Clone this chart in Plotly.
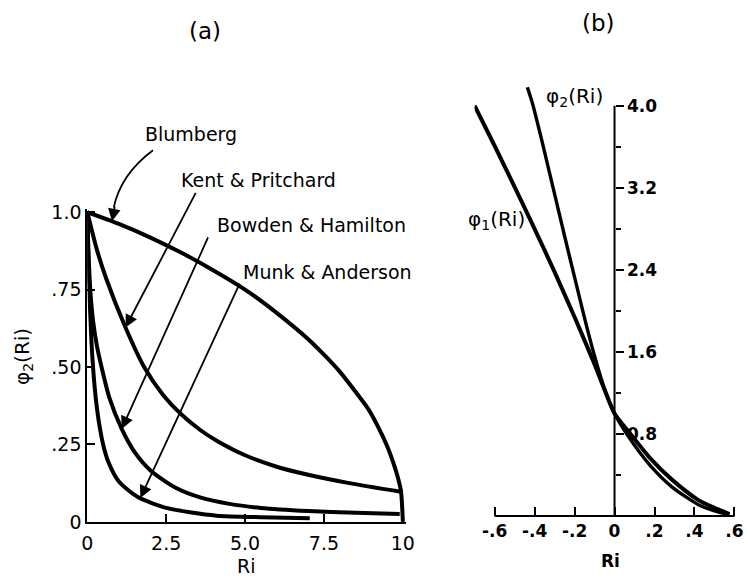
import numpy as np
import plotly.graph_objects as go

W, H = 747, 588

# ---------------- data: panel (a) ----------------
ri_blumberg = [0, 1.0, 2.0, 3.0, 4.0, 5.0, 6.0, 7.0, 7.5, 8.0, 8.5, 8.9, 9.2, 9.5, 9.7, 9.85, 9.94, 10.0]
phi_blumberg = [1.0, 0.962, 0.918, 0.868, 0.812, 0.75, 0.675, 0.59, 0.54, 0.485, 0.42, 0.365, 0.31, 0.245, 0.19, 0.14, 0.10, 0.0]

ri_kent = [0, 0.3, 0.6, 1.2, 1.8, 2.4, 3.0, 3.6, 4.1, 5.0, 6.0, 7.0, 8.3, 9.94]
phi_kent = [1.0, 0.88, 0.785, 0.63, 0.50, 0.41, 0.345, 0.295, 0.262, 0.215, 0.178, 0.152, 0.125, 0.097]

ri_bowden = [0, 0.04, 0.1, 0.18, 0.3, 0.45, 0.7, 1.09, 1.5, 2.0, 2.8, 3.6, 4.5, 5.5, 7.0, 8.5, 9.9]
phi_bowden = [1.0, 0.86, 0.74, 0.65, 0.57, 0.50, 0.40, 0.30, 0.225, 0.166, 0.11, 0.078, 0.058, 0.045, 0.035, 0.029, 0.025]

ri_munk = [0, 0.02, 0.06, 0.16, 0.3, 0.5, 0.68, 1.0, 1.6, 2.5, 3.3, 4.1, 5.5, 7.05]
phi_munk = [1.0, 0.9, 0.76, 0.53, 0.37, 0.25, 0.19, 0.13, 0.08, 0.045, 0.03, 0.02, 0.015, 0.012]

a_xtick_vals = [0, 2.5, 5.0, 7.5, 10]
a_xtick_text = ["0", "2.5", "5.0", "7.5", "10"]
a_ytick_vals = [0, 0.25, 0.5, 0.75, 1.0]
a_ytick_text = ["0", ".25", ".50", ".75", "1.0"]

# ---------------- data: panel (b) ----------------
ri_phi1 = [-0.70, -0.60, -0.50, -0.40, -0.30, -0.20, -0.10, -0.05, 0.0, 0.08, 0.18, 0.29, 0.42, 0.50, 0.575]
phi1 = [4.00, 3.61, 3.21, 2.80, 2.38, 1.94, 1.48, 1.23, 1.0, 0.80, 0.56, 0.35, 0.155, 0.08, 0.02]

ri_phi2 = [-0.436, -0.41, -0.38, -0.35, -0.30, -0.25, -0.20, -0.15, -0.10, -0.05, 0.0, 0.08, 0.18, 0.29, 0.42, 0.50, 0.575]
phi2 = [4.18, 4.02, 3.79, 3.55, 3.14, 2.73, 2.33, 1.93, 1.56, 1.24, 1.0, 0.745, 0.49, 0.28, 0.11, 0.05, 0.01]

b_xtick_vals = [-0.6, -0.4, -0.2, 0, 0.2, 0.4, 0.6]
b_xtick_text = ["-.6", "-.4", "-.2", "0", ".2", ".4", ".6"]
b_ytick_vals = [0.8, 1.6, 2.4, 3.2, 4.0]
b_ytick_text = ["0.8", "1.6", "2.4", "3.2", "4.0"]
b_yminor_vals = [0.4, 1.2, 2.0, 2.8, 3.6]

# ---------------- layout geometry ----------------
def px(x, y):
    return x / W, 1 - y / H

XA_RANGE = [0, 10.1]
YA_RANGE = [0, 1.01]
XB_RANGE = [-0.70, 0.615]
YB_RANGE = [0, 4.3]

xa_dom = [83 / W, (83 + 32.2 * 10.1) / W]
ya_dom = [(H - 531) / H, (H - (531 - 320 * 1.01)) / H]
xb_dom = [(621 - 204 * 0.70) / W, (621 + 204 * 0.615) / W]
yb_dom = [(H - 525) / H, (H - (525 - 106 * 4.3)) / H]
yb_pos = xb_dom[0] + (0 - XB_RANGE[0]) / (XB_RANGE[1] - XB_RANGE[0]) * (xb_dom[1] - xb_dom[0])

FONT = "DejaVu Sans"
fa = dict(family=FONT, size=19, color="black")
fb = dict(family=FONT, size=17, color="black", weight="bold")

fig = go.Figure()


def curve(x, y, xa, ya, w=4.0):
    fig.add_trace(go.Scatter(
        x=x, y=y, xaxis=xa, yaxis=ya, mode="lines",
        line=dict(color="black", width=w, shape="spline", smoothing=0.7),
        hoverinfo="skip", showlegend=False))


curve(ri_blumberg, phi_blumberg, "x", "y")
curve(ri_kent, phi_kent, "x", "y")
curve(ri_bowden, phi_bowden, "x", "y")
curve(ri_munk, phi_munk, "x", "y")
curve(ri_phi1, phi1, "x2", "y2", 4.0)
curve(ri_phi2, phi2, "x2", "y2", 3.4)

fig.update_layout(
    width=W, height=H,
    margin=dict(l=0, r=0, t=0, b=0),
    paper_bgcolor="white", plot_bgcolor="white",
    showlegend=False,
    xaxis=dict(domain=xa_dom, range=XA_RANGE, anchor="y", showline=True, linecolor="black",
               linewidth=2, ticks="inside", ticklen=8, tickwidth=2, tickcolor="black",
               tickvals=a_xtick_vals, ticktext=a_xtick_text, tickfont=fa,
               ticklabelstandoff=3, showgrid=False, zeroline=False),
    yaxis=dict(domain=ya_dom, range=YA_RANGE, anchor="x", showline=True, linecolor="black",
               linewidth=2, ticks="inside", ticklen=8, tickwidth=2, tickcolor="black",
               tickvals=a_ytick_vals, ticktext=a_ytick_text, tickfont=fa,
               showgrid=False, zeroline=False),
    xaxis2=dict(domain=xb_dom, range=XB_RANGE, anchor="y2", showline=False,
                ticks="inside", ticklen=9, tickwidth=2, tickcolor="black",
                tickvals=b_xtick_vals, ticktext=b_xtick_text, tickfont=fb,
                ticklabelstandoff=3, showgrid=False, zeroline=False),
    yaxis2=dict(domain=yb_dom, range=YB_RANGE, anchor="free", position=yb_pos, side="right",
                showline=False, ticks="outside", ticklen=8, tickwidth=2, tickcolor="black",
                tickvals=b_ytick_vals, ticktext=b_ytick_text, tickfont=fb,
                minor=dict(tickvals=b_yminor_vals, ticks="outside", ticklen=5, tickwidth=2,
                           tickcolor="black"),
                showgrid=False, zeroline=False),
    yaxis3=dict(range=YB_RANGE, overlaying="y2", anchor="free", position=yb_pos, side="left",
                showline=False, ticks="outside", ticklen=8, tickwidth=2, tickcolor="black",
                tickvals=b_ytick_vals, showticklabels=False,
                minor=dict(tickvals=b_yminor_vals, ticks="outside", ticklen=5, tickwidth=2,
                           tickcolor="black"),
                showgrid=False, zeroline=False),
)

# axis lines for panel (b)
fig.add_shape(type="line", xref="x2", yref="y2", x0=0, x1=0, y0=0, y1=4.0,
              line=dict(color="black", width=2))
fig.add_shape(type="line", xref="x2", yref="paper", x0=-0.6, x1=0.6, y0=yb_dom[0], y1=yb_dom[0],
              line=dict(color="black", width=2))

ann = []


def text(s, x, y, font, angle=0):
    X, Y = px(x, y)
    ann.append(dict(text=s, x=X, y=Y, xref="paper", yref="paper", showarrow=False,
                    xanchor="center", yanchor="middle", font=font, textangle=angle))


ftitle = dict(family=FONT, size=23, color="black")
text("(a)", 203, 24, ftitle)
text("(b)", 605, 16, ftitle)
text("Ri", 245, 577, fa)
text("Ri", 617, 571, fb)
text("φ<sub>2</sub>(Ri)", 18, 360, dict(family=FONT, size=20, color="black"), -90)
text("Blumberg", 189, 130, fa)
text("Kent & Pritchard", 258, 178, fa)
text("Bowden & Hamilton", 312, 224, fa)
text("Munk & Anderson", 328, 273, fa)
text("φ<sub>2</sub>(Ri)", 580, 92, dict(family=FONT, size=20, color="black"))
text("φ<sub>1</sub>(Ri)", 501, 219, dict(family=FONT, size=20, color="black"))


def arrow(ri, ri_arr, phi_arr, ax, ay):
    ann.append(dict(text="", x=ri, y=float(np.interp(ri, ri_arr, phi_arr)), xref="x", yref="y",
                    ax=ax, ay=ay, axref="pixel", ayref="pixel", showarrow=True,
                    arrowhead=2, arrowsize=1.4, arrowwidth=1.8, arrowcolor="black",
                    standoff=0, startstandoff=0))


# Blumberg: curved arrow
arrow(0.78, ri_blumberg, phi_blumberg, 3, -16)
p0 = px(150, 147)
c0 = px(117, 172)
p1 = px(110, 206)
fig.add_shape(type="path", xref="paper", yref="paper",
              path=f"M {p0[0]} {p0[1]} Q {c0[0]} {c0[1]} {p1[0]} {p1[1]}",
              line=dict(color="black", width=1.8))
arrow(1.21, ri_kent, phi_kent, 71, -136)
arrow(1.09, ri_bowden, phi_bowden, 87, -193)
arrow(1.68, ri_munk, phi_munk, 100, -216)

fig.update_layout(annotations=ann)
fig.write_html("out.html")
